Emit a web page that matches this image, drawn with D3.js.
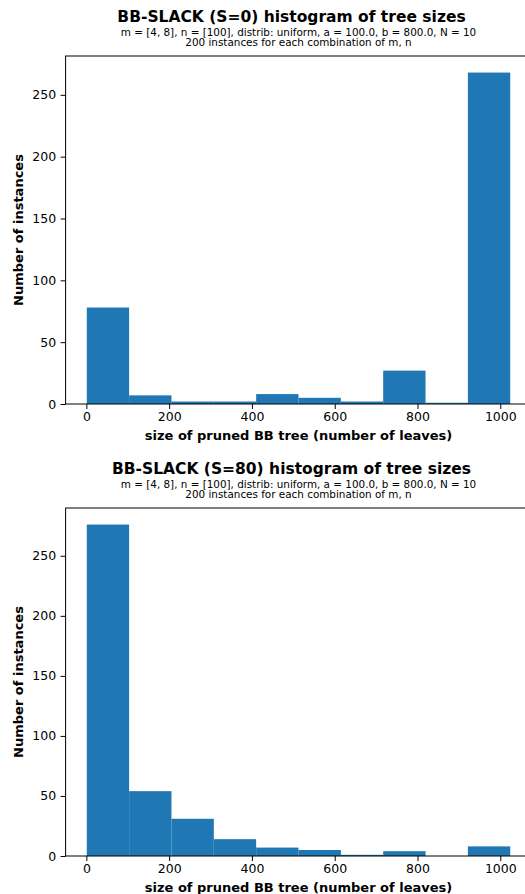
<!DOCTYPE html>
<html><head><meta charset="utf-8">
<script src="https://cdn.jsdelivr.net/npm/d3@7"></script>
<style>body{margin:0;background:#fff}svg{display:block}text{font-family:"DejaVu Sans",sans-serif}</style>
</head><body>
<script>
const binEdges = [1,103.3,205.6,307.9,410.2,512.5,614.8,717.1,819.4,921.7,1024];
const countsS0 = [78,7,2,2,8,5,2,27,1,268];
const countsS80 = [276,54,31,14,7,5,1,4,0,8];
const xTicks = [0,200,400,600,800,1000];
const yTicks = [0,50,100,150,200,250];
const titles = ["BB-SLACK (S=0) histogram of tree sizes","BB-SLACK (S=80) histogram of tree sizes"];
const subtitle1 = "m = [4, 8], n = [100], distrib: uniform, a = 100.0, b = 800.0, N = 10";
const subtitle2 = "200 instances for each combination of m, n";
const xLabel = "size of pruned BB tree (number of leaves)";
const yLabel = "Number of instances";

const W=525,H=894;
const svg=d3.select("body").append("svg").attr("width",W).attr("height",H);

function panel(counts,title,top,bottom){
  const left=65.6,right=531.4;
  const lo=binEdges[0], hi=binEdges[binEdges.length-1], m=(hi-lo)*0.05;
  const x=d3.scaleLinear().domain([lo-m,hi+m]).range([left,right]);
  const ymax=d3.max(counts)*1.05;
  const y=d3.scaleLinear().domain([0,ymax]).range([bottom,top]);
  const g=svg.append("g");
  const cx=(left+right)/2;
  g.append("text").attr("x",291.5).attr("y",top-34).attr("text-anchor","middle")
    .attr("font-size","15.5px").attr("font-weight","bold").text(title);
  g.append("text").attr("x",cx).attr("y",top-20.3).attr("text-anchor","middle")
    .attr("font-size","10.4px").text(subtitle1);
  g.append("text").attr("x",cx).attr("y",top-9.8).attr("text-anchor","middle")
    .attr("font-size","10.4px").text(subtitle2);
  const bins=counts.map((c,i)=>({x0:binEdges[i],x1:binEdges[i+1],c}));
  g.selectAll("rect.bar").data(bins).enter().append("rect").attr("class","bar")
    .attr("x",d=>x(d.x0)).attr("width",d=>x(d.x1)-x(d.x0))
    .attr("y",d=>y(d.c)).attr("height",d=>y(0)-y(d.c))
    .attr("fill","#1f77b4");
  g.append("rect").attr("x",left).attr("y",top).attr("width",right-left).attr("height",bottom-top)
    .attr("fill","none").attr("stroke","#000").attr("stroke-width",1);
  const xa=g.append("g").attr("transform",`translate(0,${bottom})`)
    .call(d3.axisBottom(x).tickValues(xTicks).tickSize(5).tickPadding(3.5).tickFormat(d3.format("d")));
  const ya=g.append("g").attr("transform",`translate(${left},0)`)
    .call(d3.axisLeft(y).tickValues(yTicks).tickSize(5).tickPadding(4.5).tickFormat(d3.format("d")));
  [xa,ya].forEach(a=>{a.select(".domain").remove();
    a.selectAll("text").attr("font-size","12.5px").attr("fill","#000").attr("font-family","DejaVu Sans");
    a.selectAll("line").attr("stroke","#000");});
  g.append("text").attr("x",cx).attr("y",bottom+36).attr("text-anchor","middle")
    .attr("font-size","13px").attr("font-weight","bold").text(xLabel);
  g.append("text").attr("transform",`translate(23,${(top+bottom)/2}) rotate(-90)`)
    .attr("text-anchor","middle").attr("font-size","13px").attr("font-weight","bold").text(yLabel);
}
panel(countsS0,titles[0],56,404);
panel(countsS80,titles[1],508,856);
</script>
</body></html>
